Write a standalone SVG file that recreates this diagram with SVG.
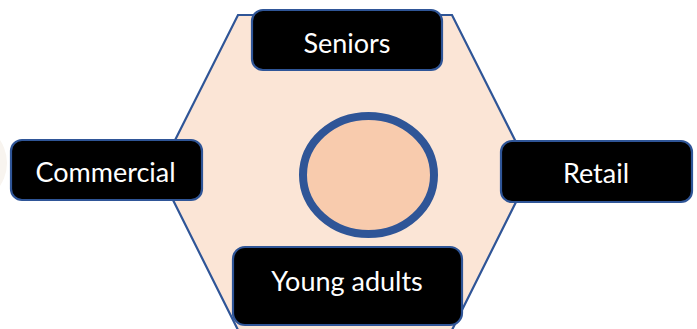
<svg xmlns="http://www.w3.org/2000/svg" width="697" height="329" viewBox="0 0 697 329">
<style>
.box{fill:#000000;stroke:#2F5597;stroke-width:2.2}
.lbl{fill:#FFFFFF;font-family:Lato,"Open Sans",sans-serif;font-size:27px;text-anchor:middle}
</style>
<rect width="697" height="329" fill="#FFFFFF"/>
<ellipse cx="-32" cy="163" rx="39" ry="40" fill="#F8F4EF"/>
<g id="hexagon">
<polygon points="238,15 452,15 531,172 452,330 238,330 159,172" fill="#FBE5D6" stroke="#2F5597" stroke-width="2.2"/>
</g>
<g id="hub">
<ellipse cx="368.5" cy="175" rx="65.5" ry="59" fill="#F8CBAD" stroke="#2F5597" stroke-width="8"/>
</g>
<g id="connectors"></g>
<g id="seniors">
<rect class="box" x="252" y="10" width="190" height="60" rx="11"/>
<text class="lbl" x="347" y="53">Seniors</text>
</g>
<g id="commercial">
<rect class="box" x="11" y="140" width="191" height="60" rx="11"/>
<text class="lbl" x="105.5" y="182">Commercial</text>
</g>
<g id="retail">
<rect class="box" x="501" y="141" width="191" height="61" rx="11"/>
<text class="lbl" x="596" y="183">Retail</text>
</g>
<g id="young-adults">
<rect class="box" x="233" y="247" width="229" height="78" rx="12"/>
<text class="lbl" x="347" y="291">Young adults</text>
</g>
</svg>
